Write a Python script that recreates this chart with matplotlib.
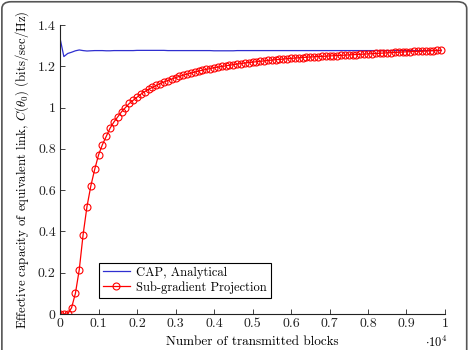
import matplotlib
matplotlib.use("Agg")
import matplotlib.pyplot as plt
from matplotlib.patches import FancyBboxPatch
import numpy as np

plt.rcParams['font.family'] = 'serif'
plt.rcParams['font.serif'] = ['cmr10', 'DejaVu Serif']
plt.rcParams['mathtext.fontset'] = 'cm'
plt.rcParams['axes.formatter.use_mathtext'] = True

# Number of transmitted blocks (in units of 10^4)
blocks = [i / 100 for i in range(100)]

cap_analytical = [
    1.336, 1.247, 1.262, 1.268, 1.275, 1.279, 1.276, 1.274, 1.275, 1.276,
    1.276, 1.276, 1.275, 1.275, 1.276, 1.276, 1.276, 1.276, 1.276, 1.276,
    1.277, 1.277, 1.277, 1.277, 1.277, 1.277, 1.277, 1.277, 1.276, 1.276,
    1.276, 1.276, 1.276, 1.276, 1.276, 1.276, 1.276, 1.276, 1.276, 1.276,
    1.275, 1.275, 1.275, 1.275, 1.275, 1.275, 1.276, 1.276, 1.276, 1.276,
    1.276, 1.276, 1.276, 1.276, 1.276, 1.276, 1.276, 1.276, 1.276, 1.276,
    1.276, 1.276, 1.276, 1.276, 1.276, 1.276, 1.276, 1.276, 1.276, 1.276,
    1.276, 1.276, 1.276, 1.276, 1.276, 1.276, 1.276, 1.276, 1.276, 1.276,
    1.276, 1.276, 1.276, 1.276, 1.276, 1.276, 1.276, 1.276, 1.276, 1.276,
    1.276, 1.276, 1.276, 1.276, 1.276, 1.276, 1.276, 1.276, 1.276, 1.276,
]

sub_gradient = [
    0.000, 0.000, 0.000, 0.030, 0.100, 0.215, 0.385, 0.520, 0.620, 0.700,
    0.770, 0.820, 0.860, 0.900, 0.930, 0.955, 0.980, 1.000, 1.020, 1.035,
    1.050, 1.065, 1.077, 1.088, 1.098, 1.107, 1.116, 1.124, 1.131, 1.138,
    1.145, 1.151, 1.157, 1.162, 1.167, 1.172, 1.177, 1.181, 1.185, 1.189,
    1.193, 1.196, 1.199, 1.202, 1.205, 1.208, 1.211, 1.213, 1.216, 1.218,
    1.220, 1.222, 1.224, 1.226, 1.228, 1.230, 1.232, 1.233, 1.235, 1.237,
    1.238, 1.240, 1.241, 1.242, 1.244, 1.245, 1.246, 1.247, 1.248, 1.249,
    1.250, 1.251, 1.252, 1.253, 1.254, 1.255, 1.256, 1.257, 1.258, 1.259,
    1.260, 1.261, 1.262, 1.263, 1.264, 1.265, 1.266, 1.267, 1.268, 1.269,
    1.270, 1.271, 1.272, 1.272, 1.273, 1.274, 1.275, 1.276, 1.277, 1.278,
]

xticks = [0, 0.1, 0.2, 0.3, 0.4, 0.5, 0.6, 0.7, 0.8, 0.9, 1]
xticklabels = ['0', '0.1', '0.2', '0.3', '0.4', '0.5', '0.6', '0.7', '0.8', '0.9', '1']
yticks = [0, 0.2, 0.4, 0.6, 0.8, 1, 1.2, 1.4]
yticklabels = ['0', '0.2', '0.4', '0.6', '0.8', '1', '1.2', '1.4']

fig = plt.figure(figsize=(4.7, 3.5), dpi=100)
ax = fig.add_axes([0.1277, 0.1029, 0.8191, 0.8257])

ax.plot(blocks, cap_analytical, color='#2f2fd0', lw=0.9, label='CAP, Analytical')
ax.plot(blocks, sub_gradient, color='red', lw=0.9, marker='o', markersize=5,
        markerfacecolor='none', markeredgewidth=0.8, label='Sub-gradient Projection')

ax.set_xlim(0, 1)
ax.set_ylim(0, 1.4)
ax.set_xticks(xticks)
ax.set_xticklabels(xticklabels)
ax.set_yticks(yticks)
ax.set_yticklabels(yticklabels)
ax.tick_params(direction='in', length=3.5, width=0.6, labelsize=10, colors='#222222', pad=3)
for s in ['top', 'right']:
    ax.spines[s].set_visible(False)
for s in ['left', 'bottom']:
    ax.spines[s].set_linewidth(0.8)
    ax.spines[s].set_color('#222222')

ax.set_xlabel('Number of transmitted blocks', fontsize=9.5, labelpad=4)
ax.set_ylabel(r'Effective capacity of equivalent link, $C(\theta_0)$ $(\mathrm{bits/sec/Hz})$',
              fontsize=9.2, labelpad=5)
ax.text(0.977, -0.1, r'$\cdot 10^4$', transform=ax.transAxes, fontsize=9,
        ha='center', va='center')

leg = ax.legend(loc='lower left', bbox_to_anchor=(0.085, 0.035), fontsize=9,
                frameon=True, fancybox=False, edgecolor='black', framealpha=1,
                borderpad=0.3, handlelength=2.2, labelspacing=0.2, handletextpad=0.5)
leg.get_frame().set_linewidth(0.8)

frame = FancyBboxPatch((0.004, -0.05), 0.989, 1.045, boxstyle='round,pad=0,rounding_size=0.02',
                       transform=fig.transFigure, fill=False, edgecolor='#555555', lw=1.2,
                       clip_on=False)
fig.patches.append(frame)

fig.savefig('out.png', dpi=100)
